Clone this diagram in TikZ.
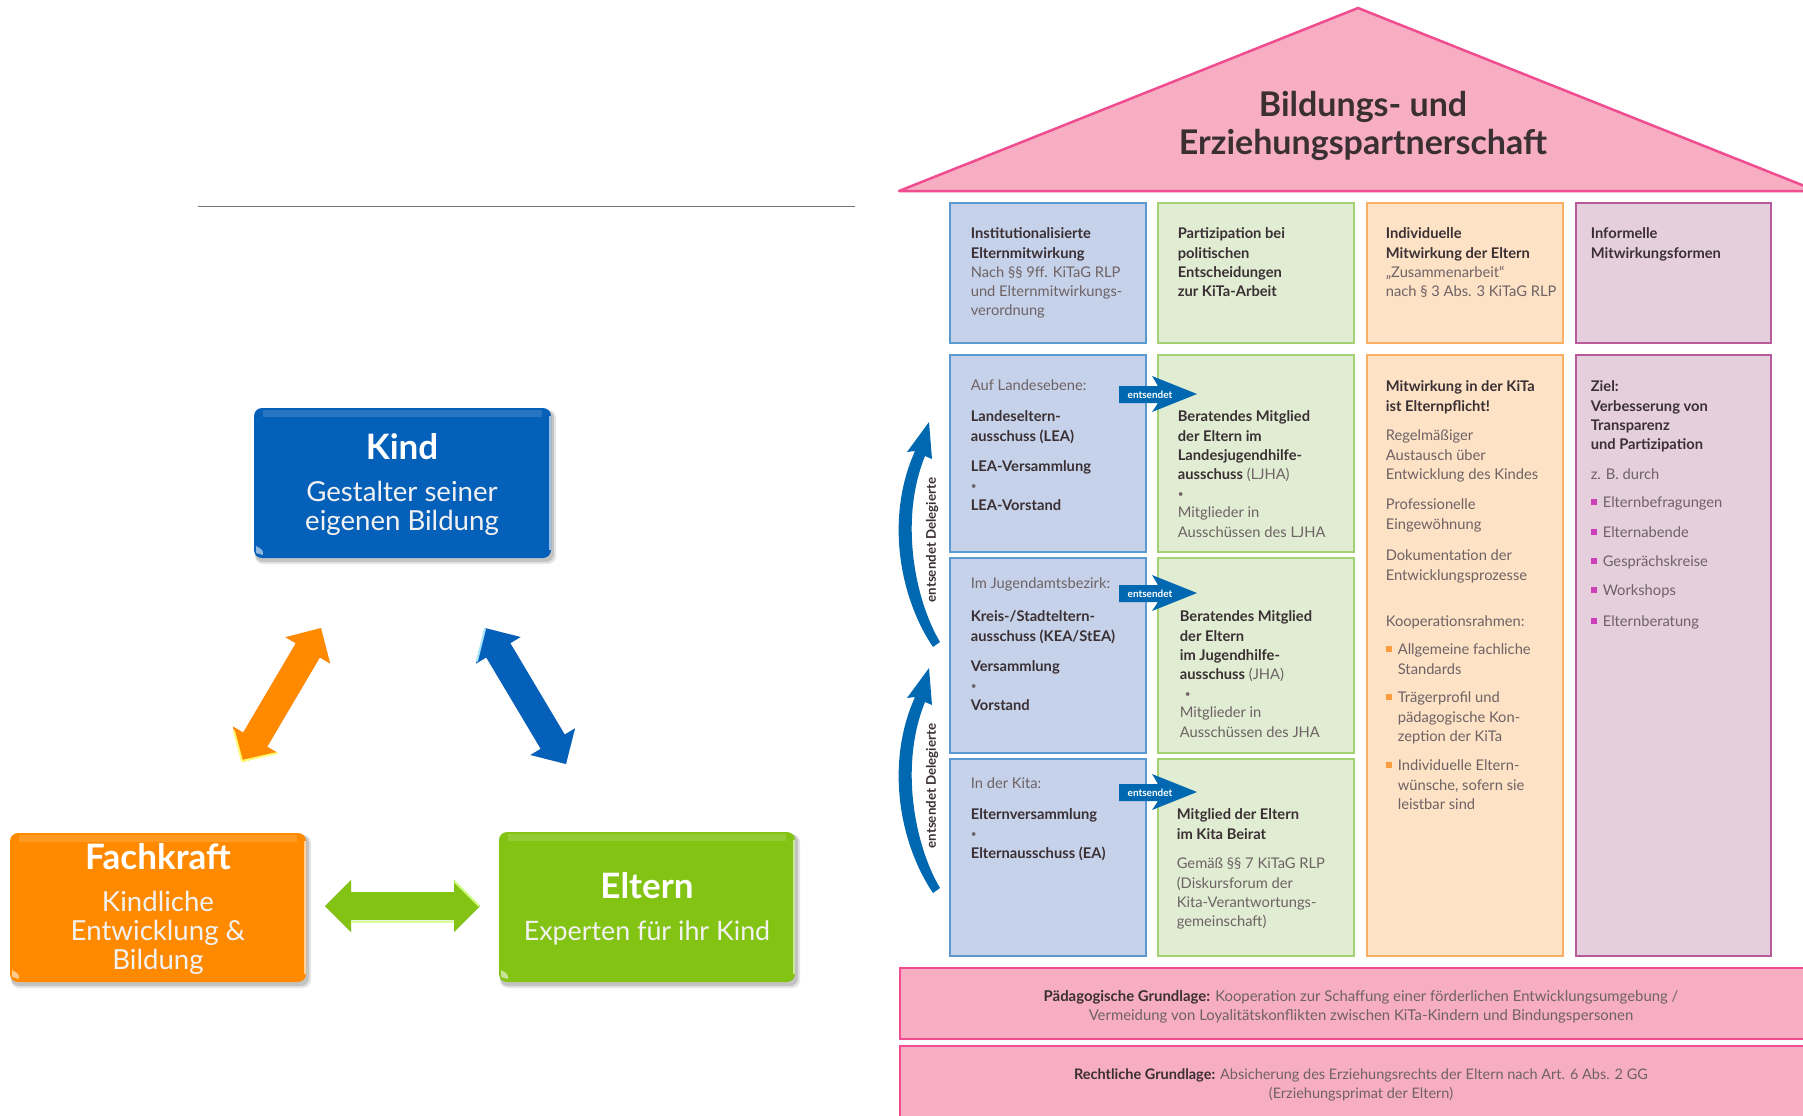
\documentclass[tikz,border=0pt]{standalone}
\usepackage{fontspec}
\setmainfont{Lato}
\usetikzlibrary{calc,fit}
\definecolor{txt}{HTML}{6E6264}
\definecolor{dark}{HTML}{3A2F33}
\definecolor{bluef}{HTML}{C5D2E9}\definecolor{blued}{HTML}{5A9AD0}
\definecolor{greenf}{HTML}{E0EDD3}\definecolor{greend}{HTML}{A3D174}
\definecolor{orangef}{HTML}{FDE2C6}\definecolor{oranged}{HTML}{F9B065}
\definecolor{purplef}{HTML}{E6CFDD}\definecolor{purpled}{HTML}{B85B9B}
\definecolor{pinkf}{HTML}{F7AEC3}\definecolor{pinkd}{HTML}{EF4D90}
\definecolor{arrowblue}{HTML}{0068B0}
\definecolor{kindblue}{HTML}{0560BA}
\definecolor{fachorange}{HTML}{FF8A00}
\definecolor{elterngreen}{HTML}{82C314}
\newcommand\fs{\fontsize{7.35}{9.6}\selectfont}
\newcommand\B[1]{\textbf{\textcolor{dark}{#1}}}
\newcommand\dotm{{\fontsize{5}{9.6}\selectfont\raisebox{.6pt}{•}}}
\newcommand\tb[4]{\node[anchor=north west,inner sep=0pt,align=left,font=\fs,text=txt] (#1) at ($(#2,#3)+(-.6,-8.5)$) {\rule{0pt}{7pt}#4};}
\newcommand\bul[4]{\fill[#4] (#1,#2) ++(0,-3) rectangle ++(6,6); \tb{#3}{#1+12}{#2}}
\newcommand\hl{13pt}\newcommand\hw{13pt}\newcommand\sw{7pt}
\newcommand\blockarrowpath[2]{(#1) -- ($(#1)!\hl!(#2)!\hw!90:(#2)$) -- ($(#1)!\hl!(#2)!\sw!90:(#2)$) -- ($(#2)!\hl!(#1)!\sw!-90:(#1)$) -- ($(#2)!\hl!(#1)!\hw!-90:(#1)$) -- (#2) -- ($(#2)!\hl!(#1)!\hw!90:(#1)$) -- ($(#2)!\hl!(#1)!\sw!90:(#1)$) -- ($(#1)!\hl!(#2)!\sw!-90:(#2)$) -- ($(#1)!\hl!(#2)!\hw!-90:(#2)$) -- cycle}
\newcommand\blockarrow[3]{%
 \fill[black,opacity=.18,shift={(3,4)}] \blockarrowpath{#1}{#2};
 \fill[#3] \blockarrowpath{#1}{#2};}
\newcommand\gloss[6]{% name x1 y1 x2 y2 colour
 \fill[black,opacity=.10,rounded corners=4pt] (#2+1,#3+2) rectangle (#4+5,#5+6);
 \fill[black,opacity=.15,rounded corners=4pt] (#2+1,#3+2) rectangle (#4+3,#5+4);
 \node[fit={(#2,#3)(#4,#5)},inner sep=0pt,fill=#6,rounded corners=4pt] (#1) {};
 \fill[white,opacity=.14] (#2+9,#3+2) rectangle (#4-9,#3+9);
 \draw[white,opacity=.6,line width=1.1pt] (#4-1,#3+8) -- (#4-1,#5-8);
 \fill[white,opacity=.55] (#2+2,#5-12) -- (#2+2,#5-5) -- (#2+9,#5-3) .. controls (#2+9,#5-8) .. (#2+2,#5-12);
}
\tikzset{
 x=0.5pt,y=-0.5pt,
 cell/.style={inner sep=0pt,line width=1.25pt},
 bcell/.style={cell,fill=bluef,draw=blued},
 gcell/.style={cell,fill=greenf,draw=greend},
 ocell/.style={cell,fill=orangef,draw=oranged},
 pcell/.style={cell,fill=purplef,draw=purpled},
 band/.style={cell,fill=pinkf,draw=pinkd},
 sendlab/.style={font=\bfseries\fontsize{5}{6}\selectfont,text=white,inner sep=0pt},
 dellab/.style={font=\bfseries\fontsize{6.65}{8}\selectfont,text=dark,inner sep=0pt,rotate=90},
 bandtext/.style={font=\fontsize{7.45}{9.6}\selectfont,text=txt,align=center,inner sep=0pt},
 boxhead/.style={font=\bfseries\fontsize{17.5}{19}\selectfont,text=white,inner sep=0pt},
 boxbody/.style={font=\fontsize{13.8}{14.4}\selectfont,text=white!95!black,align=center,inner sep=0pt},
}
\begin{document}
\begin{tikzpicture}
\useasboundingbox (0,0) rectangle (1803,1115);
\clip (0,0) rectangle (1803,1115);
% left rule
\coordinate (ruleL) at (198,206); \coordinate (ruleR) at (855,206);
\draw[line width=.5pt,black!55] (ruleL) -- (ruleR);
% triangle boxes
\gloss{kind}{254}{408}{551}{558}{kindblue}
\gloss{fach}{10}{833}{306}{982}{fachorange}
\gloss{elt}{499}{832}{795}{982}{elterngreen}
\node[boxhead] (kindT) at (402,447) {Kind};
\node[boxbody] (kindB) at (402,508.5) {Gestalter seiner\\eigenen Bildung};
\node[boxhead] (fachT) at (158,857) {Fachkraft};
\node[boxbody] (fachB) at (158,933) {Kindliche\\Entwicklung \&\\Bildung};
\node[boxhead] (eltT) at (647,886) {Eltern};
\node[boxbody,font=\fontsize{13.4}{14.4}\selectfont] (eltB) at (647,932.5) {Experten für ihr Kind};
% block arrows
\coordinate (oa) at (321,628); \coordinate (ob) at (242,762);
\coordinate (ba) at (485,628); \coordinate (bb) at (566,764);
\coordinate (ga) at (325,906); \coordinate (gb) at (480,906);
\blockarrow{oa}{ob}{fachorange}
\blockarrow{ba}{bb}{kindblue}
\blockarrow{ga}{gb}{elterngreen}
% arrow gloss
\draw[yellow!55!white,line width=1pt,line cap=round] (234,731) -- (242,761) -- (277,753);
\draw[cyan!35!white,line width=1pt,line cap=round] (485,629) -- (477,661);
\draw[green!40!yellow!50!white,line width=1pt,line cap=round] (454,881) -- (479,906);
\draw[green!40!yellow!50!white,line width=1pt,opacity=.8] (351,922) -- (454,922);
% house roof
\node[coordinate] (apex) at (1358,8) {};
\coordinate (roofL) at (899,191); \coordinate (roofR) at (1817,191);
\filldraw[fill=pinkf,draw=pinkd,line width=1.25pt,line join=round] (roofL) -- (apex) -- (roofR) -- cycle;
\node[font=\bfseries\fontsize{17}{19}\selectfont,text=dark,align=center,inner sep=0pt] (title) at (1363,125.5) {Bildungs- und\\Erziehungspartnerschaft};
% cells
\node[bcell,fit={(950,203)(1146,343)}] (c1a) {};
\node[gcell,fit={(1158,203)(1354,343)}] (c2a) {};
\node[ocell,fit={(1367,203)(1563,343)}] (c3a) {};
\node[pcell,fit={(1576,203)(1771,343)}] (c4a) {};
\node[bcell,fit={(950,355)(1146,552)}] (c1b) {};
\node[bcell,fit={(950,558)(1146,753)}] (c1c) {};
\node[bcell,fit={(950,759)(1146,956)}] (c1d) {};
\node[gcell,fit={(1158,355)(1354,552)}] (c2b) {};
\node[gcell,fit={(1158,558)(1354,753)}] (c2c) {};
\node[gcell,fit={(1158,759)(1354,956)}] (c2d) {};
\node[ocell,fit={(1367,355)(1563,956)}] (c3b) {};
\node[pcell,fit={(1576,355)(1771,956)}] (c4b) {};
\node[band,fit={(900,968)(1830,1039)}] (b1) {};
\node[band,fit={(900,1046)(1830,1140)}] (b2) {};
% column 1
\tb{t1a}{971}{233}{\B{Institutionalisierte}\\\B{Elternmitwirkung}\\Nach §§ 9ff. KiTaG RLP\\und Elternmitwirkungs-\\verordnung}
\tb{t1b}{971}{385}{Auf Landesebene:}
\tb{t1b2}{971}{416}{\B{Landeseltern-}\\\B{ausschuss (LEA)}}
\tb{t1b3}{971}{466}{\B{LEA-Versammlung}\\\dotm\\\B{LEA-Vorstand}}
\tb{t1c}{971}{583}{Im Jugendamtsbezirk:}
\tb{t1c2}{971}{616}{\B{Kreis-/Stadteltern-}\\\B{ausschuss (KEA/StEA)}}
\tb{t1c3}{971}{666}{\B{Versammlung}\\\dotm\\\B{Vorstand}}
\tb{t1d}{971}{783}{In der Kita:}
\tb{t1d2}{971}{814}{\B{Elternversammlung}\\\dotm\\\B{Elternausschuss (EA)}}
% column 2
\tb{t2a}{1178}{233}{\B{Partizipation bei}\\\B{politischen}\\\B{Entscheidungen}\\\B{zur KiTa-Arbeit}}
\tb{t2b}{1178}{416}{\B{Beratendes Mitglied}\\\B{der Eltern im}\\\B{Landesjugendhilfe-}\\\B{ausschuss} (LJHA)\\\dotm\\Mitglieder in\\Ausschüssen des LJHA}
\tb{t2c}{1180}{616}{\B{Beratendes Mitglied}\\\B{der Eltern}\\\B{im Jugendhilfe-}\\\B{ausschuss} (JHA)\\\hspace*{2.5pt}\dotm\\Mitglieder in\\Ausschüssen des JHA}
\tb{t2d}{1177}{814}{\B{Mitglied der Eltern}\\\B{im Kita Beirat}}
\tb{t2d2}{1177}{863}{Gemäß §§ 7 KiTaG RLP\\(Diskursforum der\\Kita-Verantwortungs-\\gemeinschaft)}
% column 3
\tb{t3a}{1386}{233}{\B{Individuelle}\\\B{Mitwirkung der Eltern}\\„Zusammenarbeit“\\nach § 3 Abs. 3 KiTaG RLP}
\tb{t3b}{1386}{386}{\B{Mitwirkung in der KiTa}\\\B{ist Elternpflicht!}}
\tb{t3c}{1386}{435}{Regelmäßiger\\Austausch über\\Entwicklung des Kindes}
\tb{t3d}{1386}{504}{Professionelle\\Eingewöhnung}
\tb{t3e}{1386}{555}{Dokumentation der\\Entwicklungsprozesse}
\tb{t3f}{1386}{621}{Kooperationsrahmen:}
\bul{1386}{649}{t3g}{oranged!60!orange}{Allgemeine fachliche\\Standards}
\bul{1386}{697}{t3h}{oranged!60!orange}{Trägerprofil und\\pädagogische Kon-\\zeption der KiTa}
\bul{1386}{765}{t3i}{oranged!60!orange}{Individuelle Eltern-\\wünsche, sofern sie\\leistbar sind}
% column 4
\tb{t4a}{1591}{233}{\B{Informelle}\\\B{Mitwirkungsformen}}
\tb{t4b}{1591}{386}{\B{Ziel:}\\\B{Verbesserung von}\\\B{Transparenz}\\\B{und Partizipation}}
\tb{t4c}{1591}{474}{z. B. durch}
\bul{1591}{502}{t4d}{purpled!70!magenta}{Elternbefragungen}
\bul{1591}{532}{t4e}{purpled!70!magenta}{Elternabende}
\bul{1591}{561}{t4f}{purpled!70!magenta}{Gesprächskreise}
\bul{1591}{590}{t4g}{purpled!70!magenta}{Workshops}
\bul{1591}{621}{t4h}{purpled!70!magenta}{Elternberatung}
% bands
\node[bandtext] (b1t) at (1361,1007) {\B{Pädagogische Grundlage:} Kooperation zur Schaffung einer förderlichen Entwicklungsumgebung /\\Vermeidung von Loyalitätskonflikten zwischen KiTa-Kindern und Bindungspersonen};
\node[bandtext,font=\fontsize{7.25}{9.6}\selectfont] (b2t) at (1361,1085) {\B{Rechtliche Grundlage:} Absicherung des Erziehungsrechts der Eltern nach Art. 6 Abs. 2 GG\\(Erziehungsprimat der Eltern)};
% entsendet arrows
\foreach \n/\yy in {s1/394,s2/593,s3/792}{
 \fill[arrowblue] (1119,\yy-8) -- (1158,\yy-8) -- (1152,\yy-18) -- (1197,\yy) -- (1152,\yy+18) -- (1158,\yy+9) -- (1119,\yy+9) -- cycle;
 \node[sendlab] (\n) at (1150,\yy+.5) {entsendet};
}
% delegate arcs
\foreach \n/\dy in {d1/0,d2/246}{
 \begin{scope}[shift={(0,\dy)}]
 \fill[arrowblue] (933,647) .. controls (901,600) and (884,520) .. (915,451) -- (907,452) -- (929,422) -- (932,459) -- (925,456) .. controls (899,520) and (915,600) .. (940,642) -- cycle;
 \node[dellab] (\n) at (932,540) {entsendet Delegierte};
 \end{scope}
}
\end{tikzpicture}
\end{document}
